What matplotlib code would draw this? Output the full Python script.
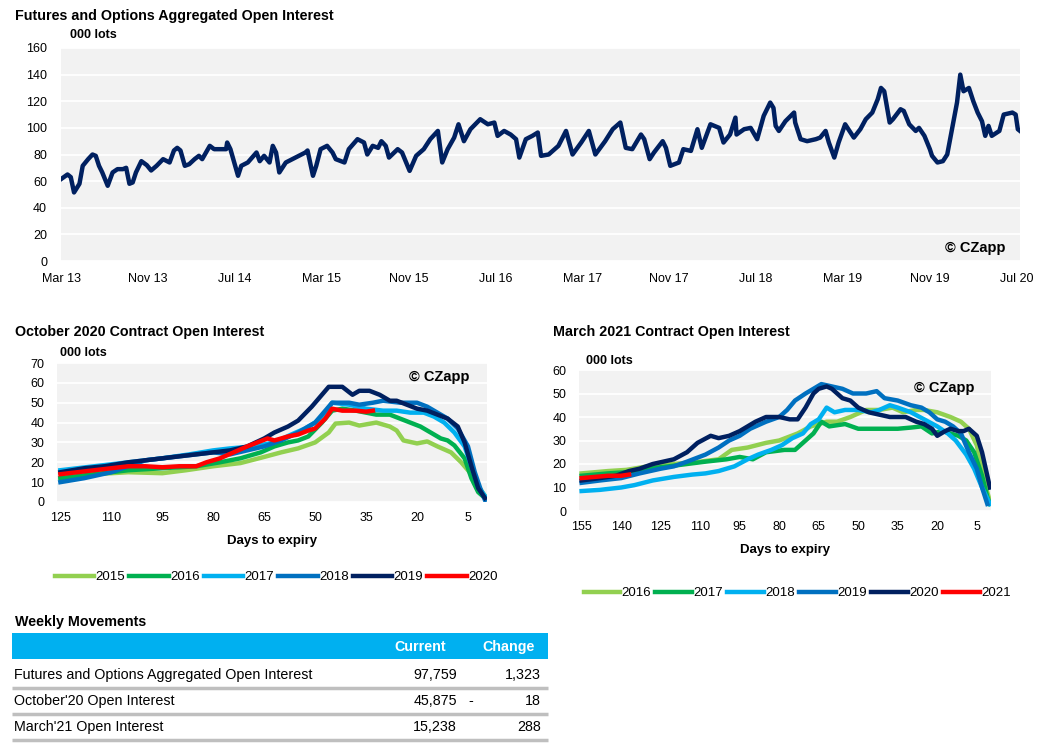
import numpy as np
import matplotlib
matplotlib.use("Agg")
import matplotlib.pyplot as plt
from matplotlib.patches import Rectangle
from matplotlib.lines import Line2D

plt.rcParams['font.family'] = ['Liberation Sans', 'DejaVu Sans']

# ---------------- datos ----------------
# Agregado futuros + opciones (meses desde Mar 13, miles de lotes)
agg_month = [0, 0.6, 0.9, 1.2, 1.7, 2.0, 2.5, 2.9, 3.2, 3.5, 3.8, 4.3, 4.75, 5.2, 5.7, 6.0,
             6.3, 6.6, 6.9, 7.4, 7.9, 8.3, 8.8, 9.4, 10.0, 10.4, 10.7, 11.0, 11.4, 11.8, 12.3,
             12.7, 13.0, 13.7, 14.1, 15.2, 15.3, 15.6, 16.3, 16.6, 17.2, 17.6, 18.0, 18.3, 18.7,
             19.2, 19.5, 19.8, 20.1, 20.7, 21.3, 21.9, 22.5, 22.7, 23.2, 23.5, 23.9, 24.5, 25.0,
             25.3, 26.1, 26.5, 27.3, 27.9, 28.2, 28.7, 29.2, 29.5, 29.9, 30.2, 31.0, 31.4, 32.1,
             32.7, 33.4, 34.0, 34.7, 35.1, 35.6, 36.2, 36.6, 37.1, 37.7, 38.6, 39.3, 39.9, 40.2,
             40.8, 41.4, 41.9, 42.2, 42.8, 43.4, 43.9, 44.2, 44.9, 45.8, 46.5, 47.1, 47.9, 48.6,
             49.2, 50.1, 50.8, 51.5, 52.0, 52.6, 53.4, 53.7, 54.2, 54.6, 55.4, 55.7, 56.1, 56.9,
             57.3, 58.0, 58.6, 59.0, 59.8, 60.6, 61.0, 61.6, 62.1, 62.2, 62.9, 63.5, 64.1, 64.7,
             65.3, 65.6, 65.8, 66.1, 66.7, 67.2, 67.5, 67.6, 68.1, 68.7, 69.5, 69.9, 70.4, 70.7,
             71.2, 71.6, 72.2, 73.0, 73.6, 74.1, 74.7, 75.2, 75.5, 75.8, 76.3, 76.6, 77.3, 77.6,
             78.1, 78.7, 79.0, 79.5, 80.0, 80.2, 80.7, 81.2, 81.6, 82.1, 82.5, 82.8, 83.1, 83.6,
             84.0, 84.4, 84.8, 85.1, 85.4, 85.7, 86.4, 86.8, 87.6, 87.9, 88.1, 88.3]
agg_oi = [61.5, 65, 63, 51.5, 58, 71.5, 76.5, 80, 79, 71.5, 66.5, 56.5, 66.5, 69, 69, 70,
          58, 59, 66.5, 75, 72, 68, 71.5, 76.5, 74, 83, 85, 83, 71.5, 72.7, 76.5,
          79, 76.5, 86.5, 84, 84, 89, 84, 64, 71.5, 74, 77.7, 81.5, 75, 79,
          74, 86.5, 81.5, 66.5, 74, 76.5, 79, 81.5, 83, 64, 71.5, 84, 86.5, 81.5,
          76.5, 74, 84, 91.5, 89, 80, 86.5, 85, 90, 86.5, 77.7, 84, 81.5, 67.7,
          79, 84, 91.5, 97.7, 74, 84, 92.7, 102.7, 90, 99, 106.5, 102.7, 104, 94,
          97.7, 95, 91.5, 77.7, 91.5, 94, 96.5, 79, 80, 86.5, 97.7, 80, 89, 97.7,
          80, 90, 99, 104, 85, 84, 95, 91.5, 76.5, 81.5, 90, 85, 71.5, 74,
          84, 82.7, 99, 85, 102.7, 100, 89, 95, 107.7, 95, 99, 100, 91.5, 109,
          119, 115, 101.5, 97.7, 105, 109, 111.5, 104, 91.5, 90, 91.5, 92.7, 97.7, 89,
          77.7, 89, 102.7, 92.7, 99, 106.5, 111.5, 121.5, 130, 127.5, 104, 106.5, 114, 112.7,
          102.7, 97.7, 100, 94, 84, 79, 74, 75, 80, 101.5, 119, 140, 127.5, 130,
          120, 111.5, 105, 94, 101.5, 94, 97.7, 110, 111.5, 110, 99, 97.7]
agg_ticks = [0, 8, 16, 24, 32, 40, 48, 56, 64, 72, 80, 88]
agg_labels = ['Mar 13', 'Nov 13', 'Jul 14', 'Mar 15', 'Nov 15', 'Jul 16',
              'Mar 17', 'Nov 17', 'Jul 18', 'Mar 19', 'Nov 19', 'Jul 20']

# Contrato Octubre 2020 (días a vencimiento)
oct_days_2015 = [125, 115, 105, 95, 88, 80, 72, 65, 60, 55, 50, 46, 44, 40, 37, 32, 28, 26, 24, 20, 17, 14, 10, 7, 4, 2, 0]
oct_oi_2015 = [12, 14, 15, 14.5, 16, 18, 19.6, 22.7, 25, 27, 30, 35, 39.5, 40, 38.5, 40, 38, 36, 31, 29.5, 30.5, 28, 25, 20, 14, 8, 3]
oct_days_2016 = [125, 115, 105, 95, 85, 78, 72, 66, 62, 58, 55, 52, 48, 45, 42, 38, 35, 32, 28, 25, 22, 19, 16, 13, 11, 9, 6, 4, 2, 0]
oct_oi_2016 = [12, 14, 16, 17, 18, 20, 22, 25, 28, 30, 31, 33, 40, 46, 47, 46, 45, 44, 44, 42, 40, 38, 35, 32, 31, 28.5, 22, 12, 5, 2]
oct_days_2017 = [125, 115, 105, 95, 87, 80, 75, 68, 62, 57, 53, 50, 47, 45, 40, 35, 30, 26, 22, 18, 15, 12, 9, 6, 4, 2, 0]
oct_oi_2017 = [16, 18, 20, 22, 24, 26, 27, 28, 30, 34, 37, 40, 45, 50, 49, 47, 46, 46, 45, 45, 43, 40, 35, 28, 18, 8, 3]
oct_days_2018 = [125, 118, 110, 105, 100, 95, 90, 85, 80, 75, 70, 65, 60, 55, 50, 47, 45, 40, 37, 33, 30, 25, 20, 17, 14, 11, 8, 5, 3, 1, 0]
oct_oi_2018 = [10, 12, 15, 18, 21, 22, 23, 24, 25, 24, 26, 28, 31, 35, 40, 46, 50, 50, 49, 50, 51, 50, 50, 48, 45, 42, 37, 28, 15, 5, 1]
oct_days_2019 = [125, 118, 112, 105, 100, 95, 90, 85, 80, 75, 70, 65, 62, 58, 55, 51, 48, 46, 42, 39, 37, 34, 31, 28, 26, 23, 20, 17, 14, 11, 8, 6, 4, 2, 0]
oct_oi_2019 = [15, 17, 18, 20, 21, 22, 23, 24, 25, 26, 28, 32, 35, 38, 41, 48, 54, 58, 58, 54, 56, 56, 54, 51, 51, 49, 47, 46, 44, 42, 38, 30, 18, 7, 2]
oct_days_2020 = [125, 120, 115, 110, 105, 100, 95, 90, 85, 82, 78, 74, 70, 67, 64, 62, 58, 55, 52, 50, 47, 45, 42, 38, 35, 33]
oct_oi_2020 = [14, 15, 16, 17, 18, 18, 17.5, 18, 18, 20, 22, 25, 28, 30, 32, 31, 33, 34, 36, 37, 42, 47, 46, 46, 45.5, 46]

# Contrato Marzo 2021
mar_days_2016 = [155, 145, 138, 130, 120, 110, 103, 98, 92, 85, 80, 73, 68, 62, 58, 53, 47, 42, 37, 33, 28, 25, 20, 15, 11, 8, 5, 3, 1, 0]
mar_oi_2016 = [16, 17, 17.5, 19, 20, 21, 22, 26, 27, 29, 30, 33, 36, 38, 38, 40, 43, 43, 44, 42, 43, 43, 42, 40, 38, 35, 28, 18, 8, 4]
mar_days_2017 = [155, 145, 138, 130, 122, 115, 108, 100, 95, 90, 85, 78, 74, 70, 67, 64, 61, 55, 50, 45, 40, 35, 30, 26, 22, 18, 15, 12, 9, 6, 3, 1, 0]
mar_oi_2017 = [15, 16, 16.5, 18, 19, 20, 21, 22, 23, 22, 25, 26, 26, 30, 33, 38, 36, 37, 35, 35, 35, 35, 35.5, 36, 33, 34, 33, 32, 30, 25, 15, 6, 3]
mar_days_2018 = [155, 148, 140, 135, 128, 120, 113, 108, 103, 97, 92, 88, 83, 79, 75, 71, 68, 65, 62, 59, 55, 50, 45, 42, 38, 35, 30, 25, 20, 16, 13, 9, 6, 3, 0]
mar_oi_2018 = [8.5, 9, 10, 11, 13, 14.5, 15.5, 16, 17, 19, 22, 24, 26, 28, 31, 33, 37, 39, 44, 42, 43, 43, 42, 43, 45, 44, 42, 39, 36, 33, 30, 24, 18, 10, 3]
mar_days_2019 = [155, 148, 140, 133, 125, 120, 115, 108, 103, 99, 95, 91, 85, 80, 77, 74, 70, 67, 64, 60, 56, 52, 47, 43, 40, 35, 30, 26, 23, 20, 17, 14, 11, 8, 5, 3, 1]
mar_oi_2019 = [12, 13, 14, 16, 18, 19, 21, 24, 27, 30, 32, 35, 38, 40, 43, 47, 50, 52, 54, 53, 52, 50, 50, 51, 48, 47, 45, 44, 42, 39, 38, 36, 33, 25, 18, 10, 3]
mar_days_2020 = [155, 148, 142, 137, 133, 128, 124, 120, 115, 111, 106, 103, 99, 95, 92, 89, 85, 80, 76, 73, 70, 67, 65, 62, 60, 56, 53, 50, 46, 42, 38, 35, 32, 28, 25, 22, 20, 17, 15, 12, 10, 8, 5, 3, 0]
mar_oi_2020 = [13, 14, 15, 17, 18, 20, 21, 22, 25, 29, 32, 31, 32, 34, 36, 38, 40, 40, 39, 39, 44, 50, 52, 53, 52, 48, 47, 44, 42, 41, 40, 40, 40, 38, 37, 35, 32, 34, 35, 34, 34, 35, 32, 25, 10]
mar_days_2021 = [155, 150, 145, 140, 137]
mar_oi_2021 = [14, 14.5, 15, 15, 15.5]

# Tabla semanal
tab_rows = ['Futures and Options Aggregated Open Interest', "October'20 Open Interest", "March'21 Open Interest"]
tab_current = [97759, 45875, 15238]
tab_change = [1323, -18, 288]

colores = ['#92D050', '#00B050', '#00B0F0', '#0070C0', '#002060', '#FF0000']
gris = '#F2F2F2'


def estilo_ejes(ax, ymax, ystep):
    ax.set_facecolor(gris)
    for s in ax.spines.values():
        s.set_visible(False)
    ax.set_ylim(0, ymax)
    ax.set_yticks(np.arange(0, ymax + 1, ystep))
    ax.yaxis.grid(True, color='white', linewidth=1.3)
    ax.set_axisbelow(True)
    ax.tick_params(length=0, labelsize=9, colors='black')


fig = plt.figure(figsize=(10.42, 7.5), dpi=100)
W, H = 1042, 750


def caja(x0, y0, x1, y1):
    return [x0 / W, 1 - y1 / H, (x1 - x0) / W, (y1 - y0) / H]


# capa de texto en pixeles
bg = fig.add_axes([0, 0, 1, 1])
bg.set_xlim(0, W)
bg.set_ylim(H, 0)
bg.axis('off')

# ---------- grafico superior ----------
ax1 = fig.add_axes(caja(61, 48, 1020, 261))
estilo_ejes(ax1, 160, 20)
ax1.plot(agg_month, agg_oi, color='#002060', linewidth=3.2, solid_joinstyle='round')
ax1.set_xlim(0, 88.3)
ax1.set_xticks(agg_ticks)
ax1.set_xticklabels(agg_labels)
ax1.tick_params(axis='y', pad=10)
ax1.tick_params(axis='x', pad=9)
ax1.text(0.985, 0.06, '\u00a9 CZapp', transform=ax1.transAxes, ha='right', va='center',
         fontsize=10.5, fontweight='bold')

bg.text(15, 16, 'Futures and Options Aggregated Open Interest', fontsize=10.3, fontweight='bold', va='center')
bg.text(70, 35, '000 lots', fontsize=9, fontweight='bold', va='center')

# ---------- octubre 2020 ----------
ax2 = fig.add_axes(caja(57, 363, 487, 502))
estilo_ejes(ax2, 70, 10)
oct_series = [(oct_days_2015, oct_oi_2015, '2015'), (oct_days_2016, oct_oi_2016, '2016'),
              (oct_days_2017, oct_oi_2017, '2017'), (oct_days_2018, oct_oi_2018, '2018'),
              (oct_days_2019, oct_oi_2019, '2019'), (oct_days_2020, oct_oi_2020, '2020')]
for i, (d, v, lab) in enumerate(oct_series):
    ax2.plot(d, v, color=colores[i], linewidth=3.2, label=lab, solid_joinstyle='round')
ax2.set_xlim(126, -0.6)
ax2.set_xticks(np.arange(125, 0, -15))
ax2.tick_params(axis='y', pad=9)
ax2.tick_params(axis='x', pad=7)
ax2.set_xlabel('Days to expiry', fontsize=9.5, fontweight='bold', labelpad=8)
ax2.text(0.96, 0.9, '\u00a9 CZapp', transform=ax2.transAxes, ha='right', va='center',
         fontsize=10.5, fontweight='bold')
fig.legend(*ax2.get_legend_handles_labels(), loc='center', bbox_to_anchor=(276 / W, 1 - 577 / H),
           ncol=6, frameon=False, fontsize=9.5, handlelength=3.0, handletextpad=0.1,
           columnspacing=0.3, borderpad=0)

bg.text(15, 332, 'October 2020 Contract Open Interest', fontsize=10.3, fontweight='bold', va='center')
bg.text(60, 353, '000 lots', fontsize=9, fontweight='bold', va='center')

# ---------- marzo 2021 ----------
ax3 = fig.add_axes(caja(579, 370, 991, 511))
estilo_ejes(ax3, 60, 10)
mar_series = [(mar_days_2016, mar_oi_2016, '2016'), (mar_days_2017, mar_oi_2017, '2017'),
              (mar_days_2018, mar_oi_2018, '2018'), (mar_days_2019, mar_oi_2019, '2019'),
              (mar_days_2020, mar_oi_2020, '2020'), (mar_days_2021, mar_oi_2021, '2021')]
for i, (d, v, lab) in enumerate(mar_series):
    ax3.plot(d, v, color=colores[i], linewidth=3.2, label=lab, solid_joinstyle='round')
ax3.set_xlim(156, -0.4)
ax3.set_xticks(np.arange(155, 0, -15))
ax3.tick_params(axis='y', pad=9)
ax3.tick_params(axis='x', pad=7)
ax3.set_xlabel('Days to expiry', fontsize=9.5, fontweight='bold', labelpad=8)
ax3.text(0.96, 0.87, '\u00a9 CZapp', transform=ax3.transAxes, ha='right', va='center',
         fontsize=10.5, fontweight='bold')
fig.legend(*ax3.get_legend_handles_labels(), loc='center', bbox_to_anchor=(797 / W, 1 - 593 / H),
           ncol=6, frameon=False, fontsize=9.5, handlelength=2.8, handletextpad=0.1,
           columnspacing=0.3, borderpad=0)

bg.text(553, 332, 'March 2021 Contract Open Interest', fontsize=10.3, fontweight='bold', va='center')
bg.text(586, 361, '000 lots', fontsize=9, fontweight='bold', va='center')

# ---------- tabla ----------
bg.text(15, 622, 'Weekly Movements', fontsize=10.3, fontweight='bold', va='center')
bg.add_patch(Rectangle((12, 633), 536, 26, color='#00B0F0', linewidth=0))
bg.text(446, 647, 'Current', fontsize=10.3, fontweight='bold', color='white', ha='right', va='center')
bg.text(535, 647, 'Change', fontsize=10.3, fontweight='bold', color='white', ha='right', va='center')
for i, nombre in enumerate(tab_rows):
    yc = 675 + 26 * i
    bg.text(14, yc, nombre, fontsize=10.3, va='center')
    bg.text(457, yc, f'{tab_current[i]:,}', fontsize=10.3, va='center', ha='right')
    if tab_change[i] < 0:
        bg.text(471, yc, '-', fontsize=10.3, va='center', ha='center')
    bg.text(541, yc, f'{abs(tab_change[i]):,}', fontsize=10.3, va='center', ha='right')
    bg.add_line(Line2D([12, 548], [yc + 13, yc + 13], color='#BFBFBF', linewidth=2.5,
                       solid_capstyle='butt'))

fig.savefig('out.png', dpi=100)
